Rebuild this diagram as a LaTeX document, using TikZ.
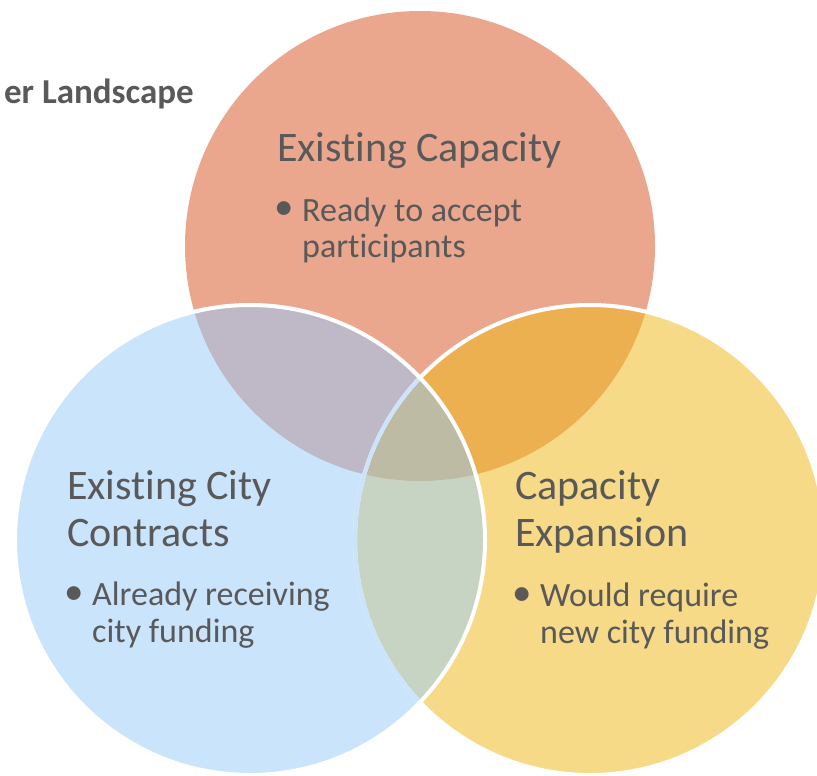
\documentclass[tikz,border=0pt]{standalone}
\usepackage{fontspec}
\setmainfont{Carlito}[Ligatures=NoCommon]
\definecolor{csalmon}{HTML}{EBA78E}
\definecolor{cblue}{HTML}{CAE4FC}
\definecolor{cyellow}{HTML}{F6DA88}
\definecolor{cpurple}{HTML}{BFB8C6}
\definecolor{corange}{HTML}{EDB051}
\definecolor{cgreen}{HTML}{C7D4C4}
\definecolor{ctriple}{HTML}{BEBBA4}
\definecolor{ctext}{HTML}{595959}
\tikzset{
  head/.style={anchor=base west, inner sep=0pt, text=ctext, font=\fontsize{42}{50}\selectfont},
  item/.style={anchor=base west, inner sep=0pt, text=ctext, font=\fontsize{34}{41}\selectfont},
  dot/.style={anchor=center, inner sep=0pt, text=ctext, font=\fontsize{39}{45}\selectfont},
  ring/.style={draw=white, line width=4pt},
}
\begin{document}
\begin{tikzpicture}[x=1pt,y=-1pt]
\useasboundingbox (0,0) rectangle (817,776);
\def\R{235}
\coordinate (ct) at (420,246);
\coordinate (cl) at (250,540);
\coordinate (cr) at (590,540);
% base fills
\fill[csalmon] (ct) circle (\R);
\fill[cblue] (cl) circle (\R);
\fill[cyellow] (cr) circle (\R);
% pairwise overlaps
\begin{scope}
  \clip (ct) circle (\R);
  \fill[cpurple] (cl) circle (\R);
  \fill[corange] (cr) circle (\R);
\end{scope}
\begin{scope}
  \clip (cl) circle (\R);
  \fill[cgreen] (cr) circle (\R);
  \clip (ct) circle (\R);
  \fill[ctriple] (cr) circle (\R);
\end{scope}
% outlines
\draw[ring] (cr) circle (\R);
\begin{scope}
  \clip (cl) circle (\R);
  \draw[draw=cblue, line width=4pt] (cr) circle (\R);
\end{scope}
\draw[ring] (cl) circle (\R);
% title
\node[anchor=base east, inner sep=0pt, text=ctext, font=\fontsize{35}{42}\selectfont\bfseries] (title) at (194,103) {er Landscape};
% top circle text
\node[head] (h1) at (277,161.5) {Existing Capacity};
\node[dot] (b1) at (284,211) {•};
\node[item] (i1a) at (302,221.5) {Ready to accept};
\node[item] (i1b) at (302,257) {participants};
% left circle text
\node[head] (h2a) at (67,499) {Existing City};
\node[head] (h2b) at (67,546) {Contracts};
\node[dot] (b2) at (74,596) {•};
\node[item] (i2a) at (92,605) {Already receiving};
\node[item] (i2b) at (92,642) {city funding};
% right circle text
\node[head] (h3a) at (515,499) {Capacity};
\node[head] (h3b) at (515,546) {Expansion};
\node[dot] (b3) at (522,596.5) {•};
\node[item] (i3a) at (540,606) {Would require};
\node[item] (i3b) at (540,643) {new city funding};
\end{tikzpicture}
\end{document}
